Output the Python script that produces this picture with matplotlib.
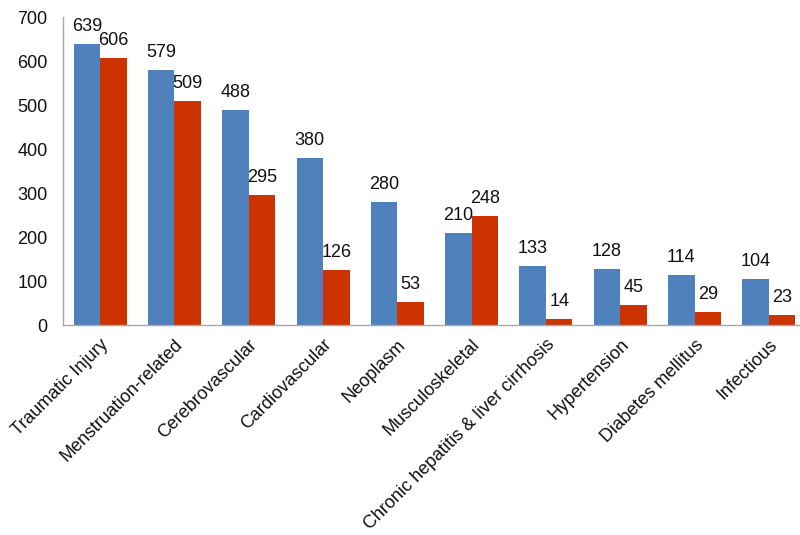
import matplotlib
matplotlib.use("Agg")
import matplotlib.pyplot as plt
import numpy as np

categories = ["Traumatic Injury", "Menstruation-related", "Cerebrovascular",
              "Cardiovascular", "Neoplasm", "Musculoskeletal",
              "Chronic hepatitis & liver cirrhosis", "Hypertension",
              "Diabetes mellitus", "Infectious"]
series_a = [639, 579, 488, 380, 280, 210, 133, 128, 114, 104]
series_b = [606, 509, 295, 126, 53, 248, 14, 45, 29, 23]
yticks = [0, 100, 200, 300, 400, 500, 600, 700]

plt.rcParams['font.family'] = ['Liberation Sans', 'DejaVu Sans']

fig = plt.figure(figsize=(8, 5.35), dpi=100)
ax = fig.add_axes([63/800, (535-325)/535, 743/800, 308/535])

x = np.arange(len(categories))
w = 0.357
bars_a = ax.bar(x - w/2, series_a, width=w, color='#4F81BD', zorder=2)
bars_b = ax.bar(x + w/2, series_b, width=w, color='#CC3300', zorder=2)

for bars, vals in ((bars_a, series_a), (bars_b, series_b)):
    for b, v in zip(bars, vals):
        ax.annotate(str(v), (b.get_x() + b.get_width()/2, v),
                    xytext=(0, 6.5), textcoords='offset points',
                    ha='center', va='bottom', fontsize=13, color='#111111')

ax.set_xlim(-0.5, len(categories) - 0.5)
ax.set_ylim(0, 700)
ax.set_yticks(yticks)
ax.set_yticklabels([str(t) for t in yticks], fontsize=13)
ax.set_xticks(x)
ax.set_xticklabels(categories, rotation=45, ha='right', va='top',
                   rotation_mode='anchor', fontsize=13)
ax.tick_params(axis='both', length=0, colors='#111111')
ax.tick_params(axis='x', pad=8)
ax.tick_params(axis='y', pad=11)

for s in ['top', 'right']:
    ax.spines[s].set_visible(False)
for s in ['left', 'bottom']:
    ax.spines[s].set_color('#A8A8A8')
    ax.spines[s].set_linewidth(1.0)

fig.savefig('out.png', dpi=100)
